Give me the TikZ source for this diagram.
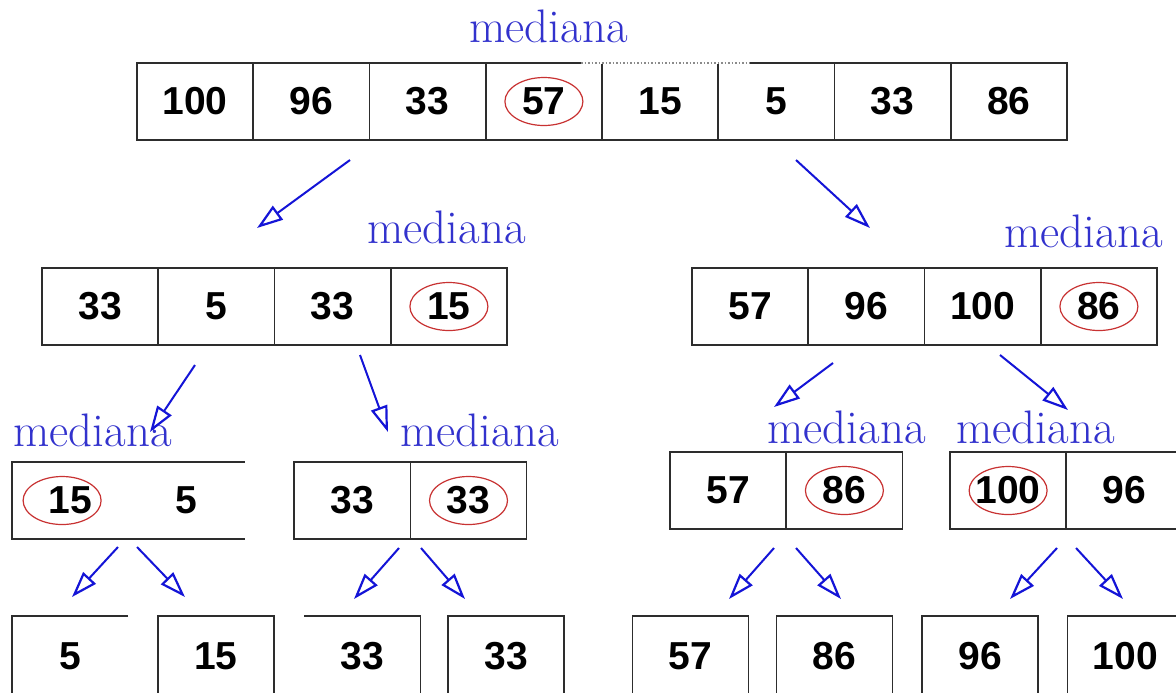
\documentclass[tikz,border=0pt]{standalone}
\usepackage{fontspec}
\usetikzlibrary{arrows.meta,shapes.geometric}
\newfontfamily\numfont{Liberation Sans}
\definecolor{arrblue}{RGB}{20,20,215}
\definecolor{txtblue}{RGB}{50,50,205}
\definecolor{ellred}{RGB}{200,50,50}
\definecolor{boxgray}{RGB}{45,45,45}
\tikzset{
  cellbox/.style={rectangle, minimum width=58.125pt, minimum height=38.5pt, inner sep=0pt, outer sep=0pt,
    font=\numfont\bfseries\fontsize{19.5}{19.5}\selectfont},
  celldraw/.style={cellbox, draw=boxgray, line width=0.75pt},
  lowbox/.style={cellbox, minimum height=40pt},
  lowdraw/.style={lowbox, draw=boxgray, line width=0.75pt},
  medlabel/.style={anchor=base west, inner sep=0pt, text=txtblue, font=\fontsize{23.5}{23.5}\selectfont},
  medring/.style={ellipse, draw=ellred, line width=0.6pt, minimum width=39pt, minimum height=24pt, inner sep=0pt},
  flow/.style={draw=arrblue, line width=1pt, -{Triangle[open, length=13pt, width=8.5pt, line width=1.1pt]}},
  edgeline/.style={draw=boxgray, line width=0.75pt}
}
\begin{document}
\begin{tikzpicture}[x=0.5pt,y=-0.5pt]
\useasboundingbox (0,0) rectangle (1176,692);
\fill[white] (0,0) rectangle (1176,692);
\clip (0,0) rectangle (1176,692);

% level 1
\node[medlabel] (med0) at (469,42) {mediana};
\node[celldraw] (t1) at (195.1,101.5) {100};
\node[celldraw] (t2) at (311.4,101.5) {96};
\node[celldraw] (t3) at (427.6,101.5) {33};
\node[celldraw] (t4) at (543.9,101.5) {57};
\node[celldraw] (t5) at (660.1,101.5) {15};
\node[celldraw] (t6) at (776.4,101.5) {5};
\node[celldraw] (t7) at (892.6,101.5) {33};
\node[celldraw] (t8) at (1008.9,101.5) {86};
\node[medring] (ring0) at (t4) {};
\draw[white, line width=1.2pt] ([xshift=-10.5pt]t4.north east) -- ([xshift=16pt]t5.north east);
\draw[boxgray!55, densely dotted, line width=0.75pt] ([xshift=-10.5pt]t4.north east) -- ([xshift=16pt]t5.north east);

% level 2
\node[medlabel] (med1) at (367,243) {mediana};
\node[medlabel] (med2) at (1004,247) {mediana};
\node[celldraw] (m1) at (100.1,306.5) {33};
\node[celldraw] (m2) at (216.4,306.5) {5};
\node[celldraw] (m3) at (332.6,306.5) {33};
\node[celldraw] (m4) at (448.9,306.5) {15};
\node[medring] (ring1) at (m4) {};
\node[celldraw] (n1) at (750.1,306.5) {57};
\node[celldraw] (n2) at (866.4,306.5) {96};
\node[celldraw] (n3) at (982.6,306.5) {100};
\node[celldraw] (n4) at (1098.9,306.5) {86};
\node[medring] (ring2) at (n4) {};

% level 3
\node[medlabel] (med3) at (13,446) {mediana};
\node[medlabel] (med4) at (400,446) {mediana};
\node[medlabel] (med5) at (767,443) {mediana};
\node[medlabel] (med6) at (956,443) {mediana};
\node[cellbox] (p1) at (70.1,500.5) {15};
\node[cellbox] (p2) at (186.4,500.5) {5};
\draw[edgeline] (p2.north east) -- (p1.north west) -- (p1.south west) -- (p2.south east);
\node[medring] (ring3) at ([xshift=-4pt]p1.center) {};
\node[celldraw] (q1) at (352.25,500.5) {33};
\node[celldraw] (q2) at (468.5,500.5) {33};
\node[medring] (ring4) at (q2) {};
\node[celldraw] (s1) at (728.1,490.5) {57};
\node[celldraw] (s2) at (844.4,490.5) {86};
\node[medring] (ring5) at (s2) {};
\node[celldraw] (u1) at (1008.1,490.5) {100};
\node[celldraw] (u2) at (1124.4,490.5) {96};
\node[medring] (ring6) at (u1) {};

% level 4
\node[lowbox] (b1) at (70,656) {5};
\draw[edgeline] (b1.north east) -- (b1.north west) -- (b1.south west);
\node[lowdraw] (b2) at (216,656) {15};
\node[lowbox] (b3) at (362.5,656) {33};
\draw[edgeline] (b3.north west) -- (b3.north east) -- (b3.south east);
\node[lowdraw] (b4) at (506,656) {33};
\node[lowdraw] (b5) at (690.5,656) {57};
\node[lowdraw] (b6) at (834.5,656) {86};
\node[lowdraw] (b7) at (980,656) {96};
\node[lowdraw] (b8) at (1125.5,656) {100};

% arrows
\coordinate (a1s) at (350,160); \coordinate (a1e) at (257,228);
\coordinate (a2s) at (796,160); \coordinate (a2e) at (870,228);
\coordinate (a3s) at (195,365); \coordinate (a3e) at (150,432);
\coordinate (a4s) at (360,355); \coordinate (a4e) at (388,432);
\coordinate (a5s) at (833,363); \coordinate (a5e) at (774,407);
\coordinate (a6s) at (1000,355); \coordinate (a6e) at (1068,410);
\coordinate (c1s) at (118,547); \coordinate (c1e) at (72,597);
\coordinate (c2s) at (137,547); \coordinate (c2e) at (185,597);
\coordinate (c3s) at (399,548); \coordinate (c3e) at (354,599);
\coordinate (c4s) at (421,548); \coordinate (c4e) at (465,599);
\coordinate (c5s) at (774,548); \coordinate (c5e) at (729,599);
\coordinate (c6s) at (796,548); \coordinate (c6e) at (841,599);
\coordinate (c7s) at (1057,548); \coordinate (c7e) at (1010,599);
\coordinate (c8s) at (1076,548); \coordinate (c8e) at (1123,599);
\foreach \k in {a1,a2,a3,a4,a5,a6,c1,c2,c3,c4,c5,c6,c7,c8}
  \draw[flow] (\k s) -- (\k e);
\end{tikzpicture}
\end{document}
